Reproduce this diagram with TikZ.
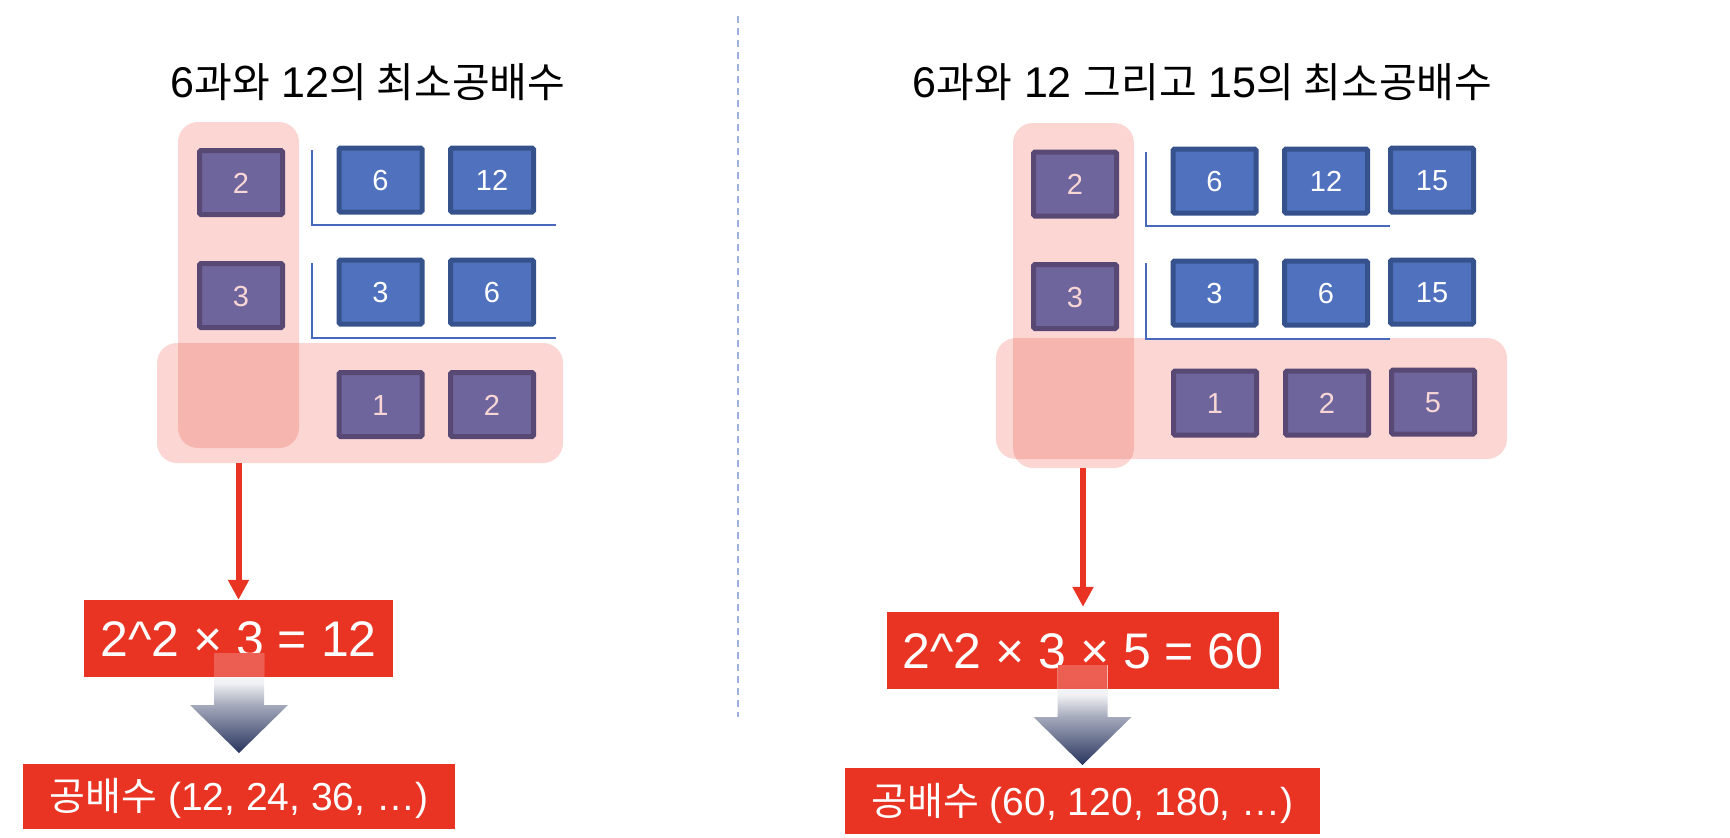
\documentclass[tikz,border=0pt]{standalone}
\usepackage{fontspec}
\setmainfont{Liberation Sans}
\newfontfamily\kr{Noto Sans CJK KR}
\usetikzlibrary{arrows.meta}
\definecolor{pfill}{RGB}{111,101,157}
\definecolor{pline}{RGB}{88,72,116}
\definecolor{ptext}{RGB}{248,214,214}
\definecolor{bfill}{RGB}{80,114,190}
\definecolor{bline}{RGB}{54,82,140}
\definecolor{lcol}{RGB}{70,105,190}
\definecolor{zred}{RGB}{233,51,35}
\definecolor{navy}{RGB}{40,52,94}
\definecolor{dashcol}{RGB}{157,177,222}
\colorlet{navymid}{navy!42!white}
\colorlet{navylight}{navy!7!white}
\pgfdeclareverticalshading{arrowshade}{100bp}{color(0bp)=(navy); color(25bp)=(navy); color(49bp)=(navymid); color(60bp)=(navylight); color(75bp)=(white); color(100bp)=(white)}
\newcommand\krt[1]{{\kr\fontsize{41}{44}\selectfont #1}}
\tikzset{
  numbox/.style={minimum width=83pt, minimum height=64pt, line width=5pt, rounded corners=1.5pt, inner sep=0pt, font=\fontsize{29}{30}\selectfont, text height=21pt, text depth=0pt},
  pbox/.style={numbox, fill=pfill, draw=pline, text=ptext},
  bbox/.style={numbox, fill=bfill, draw=bline, text=white},
  pinkzone/.style={fill=zred, fill opacity=0.2, rounded corners=20pt, draw=none, inner sep=0pt},
  lline/.style={draw=lcol, line width=1.5pt},
  redarrow/.style={draw=zred, line width=6pt, -{Triangle[width=20pt,length=20pt]}},
  eqbox/.style={fill=zred, inner sep=0pt, minimum height=77pt, text=white, font=\fontsize{50}{52}\selectfont, text height=36pt, text depth=0pt},
  mulbox/.style={fill=zred, inner sep=0pt, text=white, font=\fontsize{39}{40}\selectfont, text height=28pt, text depth=0pt},
  titletext/.style={anchor=base, font=\fontsize{43}{46}\selectfont, text=black, inner sep=0pt},
  divider/.style={draw=dashcol, line width=2pt, dash pattern=on 7pt off 5pt},
  tintover/.style={fill=zred, opacity=0.78},
  fatarrow/.pic={
    \shade[shading=arrowshade]
      (-25,0) -- (25,0) -- (25,52) -- (49,52) -- (0,100) -- (-49,52) -- (-25,52) -- cycle;
  }
}
\begin{document}
\begin{tikzpicture}[x=1pt,y=-1pt]
\path[use as bounding box] (0,0) rectangle (1730,838);

% titles
\node[titletext] (tL) at (368,97) {6\krt{과와} 12\krt{의 최소공배수}};
\node[titletext] (tR) at (1202.5,97) {6\krt{과와} 12 \krt{그리고} 15\krt{의 최소공배수}};

% divider
\coordinate (dTop) at (738,16);
\coordinate (dBot) at (738,717);
\draw[divider] (dTop) -- (dBot);

% ---------- left panel ----------
\node[pinkzone, minimum width=121pt, minimum height=326pt] (tallL) at (238.5,285) {};
\node[pinkzone, minimum width=406pt, minimum height=120pt] (wideL) at (360,403) {};

\draw[lline] (312,150) -- (312,225) -- (556,225);
\draw[lline] (312,263) -- (312,338) -- (556,338);

\node[pbox] (l2) at (241,182.5) {2};
\node[pbox] (l3) at (241,295.5) {3};
\node[bbox] (l6) at (380.5,180) {6};
\node[bbox] (l12) at (492,180) {12};
\node[bbox] (l3b) at (380.5,292) {3};
\node[bbox] (l6b) at (492,292) {6};
\node[pbox] (l1) at (380.5,404.5) {1};
\node[pbox] (l2b) at (492,404.5) {2};

\node[eqbox, minimum width=309pt] (eqL) at (238.5,638.5) {2\^{}2 × 3 = 12};
\draw[redarrow] (eqL.north |- wideL.south) -- (eqL.north);
\node[mulbox, minimum width=432pt, minimum height=65pt] (mulL) at (239,796.5) {{\kr 공배수} (12, 24, 36, …)};
\pic at (239,653) {fatarrow};
\fill[tintover] (214,653) rectangle (264,677);

% ---------- right panel ----------
\node[pinkzone, minimum width=121pt, minimum height=345pt] (tallR) at (1073.5,295.5) {};
\node[pinkzone, minimum width=511pt, minimum height=121pt] (wideR) at (1251.5,398.5) {};

\draw[lline] (1146,152) -- (1146,226) -- (1390,226);
\draw[lline] (1146,263) -- (1146,339) -- (1390,339);

\node[pbox] (r2) at (1075,184) {2};
\node[pbox] (r3) at (1075,296.5) {3};
\node[bbox] (r6) at (1214.5,181) {6};
\node[bbox] (r12) at (1326,181) {12};
\node[bbox] (r15) at (1432,180) {15};
\node[bbox] (r3b) at (1214.5,293) {3};
\node[bbox] (r6b) at (1326,293) {6};
\node[bbox] (r15b) at (1432,292) {15};
\node[pbox] (r1) at (1215,403) {1};
\node[pbox] (r2b) at (1327,403) {2};
\node[pbox] (r5) at (1433,402) {5};

\node[eqbox, minimum width=392pt] (eqR) at (1083,650.5) {2\^{}2 × 3 × 5 = 60};
\draw[redarrow] (eqR.north |- tallR.south) -- ([yshift=5pt]eqR.north);
\node[mulbox, minimum width=475pt, minimum height=66pt] (mulR) at (1082.5,801) {{\kr 공배수} (60, 120, 180, …)};
\pic at (1082.5,665) {fatarrow};
\fill[tintover] (1058,665) rectangle (1107,689);
\end{tikzpicture}
\end{document}
